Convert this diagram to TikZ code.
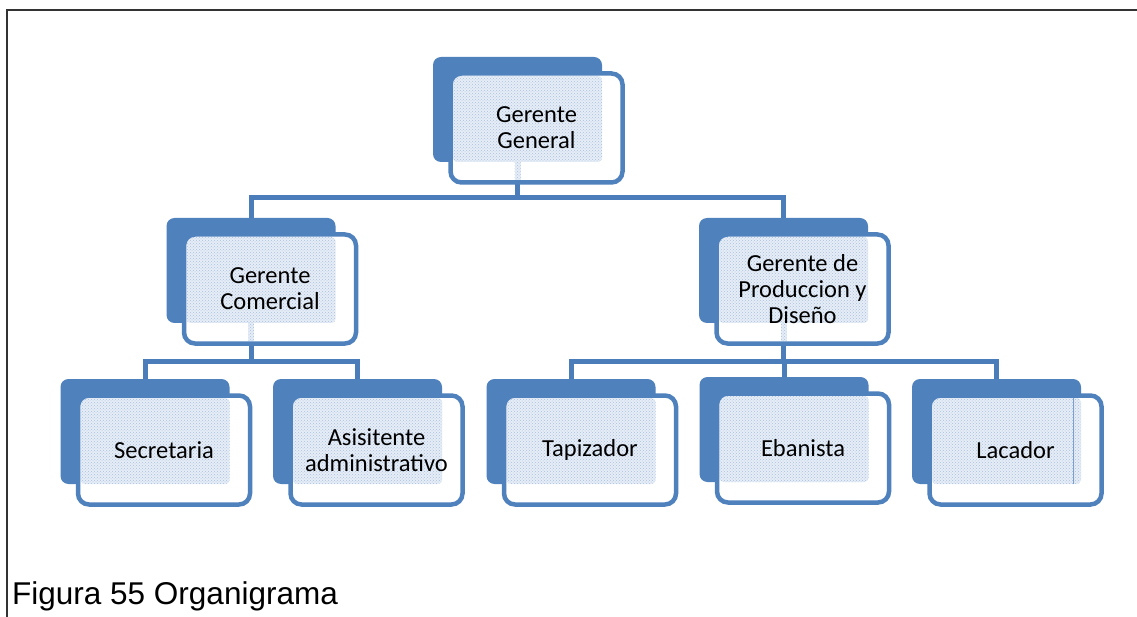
\documentclass[tikz,border=0pt]{standalone}
\usepackage{fontspec}
\newfontfamily\boxfont{Carlito}
\newfontfamily\capfont{Liberation Sans}
\usetikzlibrary{patterns,calc}
\definecolor{unitblue}{HTML}{4F81BD}
\definecolor{linkblue}{HTML}{4A7DBA}
\definecolor{dotblue}{HTML}{A9C0E0}
\definecolor{paleblue}{HTML}{E6EDF6}
\definecolor{framegray}{HTML}{333333}
\pgfdeclarelayer{bg}
\pgfsetlayers{bg,main}
\tikzset{
  backbox/.style={rectangle, rounded corners=8pt, fill=unitblue, draw=none,
    minimum width=169pt, minimum height=105pt, inner sep=0pt},
  frontbox/.style={rectangle, rounded corners=11pt, draw=unitblue, line width=4.5pt,
    minimum width=172pt, minimum height=109pt, inner sep=0pt, align=center,
    font=\boxfont\fontsize{24.5}{26}\selectfont},
  dotted area/.style={fill=paleblue, postaction={pattern=crosshatch dots, pattern color=dotblue}},
  conn/.style={draw=linkblue, line width=5pt, line join=miter},
}
% one organisation unit: name, centre of the shadow card
\newcommand{\orgunit}[3]{%
  \node[backbox] (#1-b) at (#2,#3) {};
  \fill[white, rounded corners=11pt] ({#2+19-86},{#3+18.5-54.5}) rectangle ({#2+19+86},{#3+18.5+54.5});
  \fill[dotted area, rounded corners=4pt] ({#2+19-86+2.5},{#3+18.5-54.5+2.5}) rectangle ({#2+84.5},{#3+52.5});
}
\begin{document}
\begin{tikzpicture}[x=1pt,y=-1pt]
\useasboundingbox (0,0) rectangle (1137,617);
\begin{pgfonlayer}{bg}
  \fill[white] (0,0) rectangle (1137,617);
\end{pgfonlayer}
% page frame
\draw[framegray, line width=2pt] (7,617) -- (7,10) -- (1137,10);

% top level
\orgunit{gg}{517.5}{109.5}
\fill[dotted area] (514.5,162) rectangle (520.5,181);
\node[frontbox] (gg) at (536.5,128) {Gerente\\General};

% second level
\orgunit{gc}{251}{270.5}
\fill[dotted area] (248,323) rectangle (254,341);
\node[frontbox] (gc) at (270,289) {Gerente\\Comercial};
\orgunit{gp}{783.5}{270.5}
\fill[dotted area] (780.5,323) rectangle (786.5,341);
\node[frontbox] (gp) at (802.5,289) {Gerente de\\Produccion y\\Diseño};

% third level
\orgunit{sec}{145}{431.5}
\node[frontbox] (sec) at (164,450) {Secretaria};
\orgunit{asi}{357.5}{431.5}
\node[frontbox] (asi) at (376.5,450) {Asisitente\\administrativo};
\orgunit{tap}{571}{431.5}
\node[frontbox] (tap) at (590,450) {Tapizador};
\orgunit{eba}{784}{429.5}
\node[frontbox] (eba) at (803,448) {Ebanista};
\orgunit{lac}{996.5}{431.5}
\draw[unitblue!75, line width=0.6pt] (1073,398) -- (1073,484);
\node[frontbox] (lac) at (1015.5,450) {Lacador};

% connectors
\coordinate (bar1) at (0,198);
\coordinate (bar2) at (0,361);
\begin{pgfonlayer}{bg}
  \draw[conn] (gg-b.south) -- (gg-b.south |- bar1);
  \draw[conn] (gc-b.north) -- (gc-b.north |- bar1) -- (gp-b.north |- bar1) -- (gp-b.north);
  \draw[conn] (gc-b.south) -- (gc-b.south |- bar2);
  \draw[conn] (sec-b.north) -- (sec-b.north |- bar2) -- (asi-b.north |- bar2) -- (asi-b.north);
  \draw[conn] (gp-b.south) -- (gp-b.south |- bar2);
  \draw[conn] (tap-b.north) -- (tap-b.north |- bar2) -- (lac-b.north |- bar2) -- (lac-b.north);
  \draw[conn] (eba-b.north) -- (eba-b.north |- bar2);
\end{pgfonlayer}

% caption
\node[anchor=base west, inner sep=0pt, font=\capfont\fontsize{31.5}{34}\selectfont] (caption) at (12,604) {Figura 55 Organigrama};
\end{tikzpicture}
\end{document}
